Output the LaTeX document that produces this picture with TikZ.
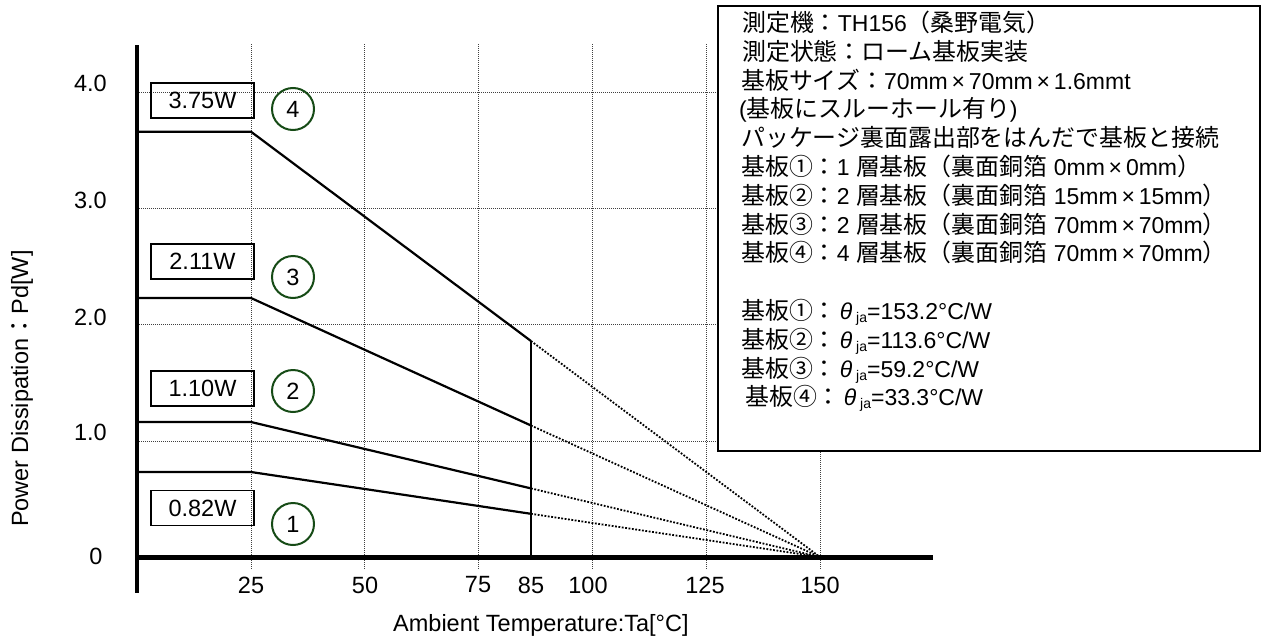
\documentclass[tikz,border=0pt]{standalone}
\usepackage{fontspec}
\setmainfont{Liberation Sans}
\newfontfamily\jp[Scale=1.04]{Noto Sans CJK JP}
\definecolor{dgreen}{RGB}{22,75,22}
\tikzset{
  txt/.style={font=\fontsize{23.5}{28}\selectfont, inner sep=0pt},
  btxt/.style={font=\fontsize{23}{28}\selectfont, inner sep=0pt},
  gridline/.style={line width=0.9pt, dash pattern=on 1pt off 1pt, black!75},
  axisline/.style={line width=4.6pt},
  curve/.style={line width=2.2pt, line join=miter},
  ext/.style={line width=1.8pt, dash pattern=on 1.8pt off 1.6pt},
  wbox/.style={txt, draw, line width=1.5pt, minimum width=103pt, minimum height=35pt},
  numcirc/.style={txt, circle, draw=dgreen, line width=2pt, minimum size=42pt},
  infoline/.style={btxt, anchor=base west},
}
\newcommand{\thja}{\textit{θ}\,\raisebox{-3pt}{\fontsize{14}{14}\selectfont ja}}
\begin{document}
\begin{tikzpicture}[x=1pt,y=-1pt]
\useasboundingbox (0,0) rectangle (1263,640);
\fill[white] (0,0) rectangle (1263,640);

% grid
\foreach \gx in {251,364,478,592,706,820}
  \draw[gridline] (\gx,44) -- (\gx,569);
\foreach \gy in {92,208,324,441}
  \draw[gridline] (137,\gy) -- (933,\gy);

% key coordinates
\coordinate (conv) at (820,557);
\coordinate (c4a) at (137,131.7); \coordinate (c4b) at (251,131.7); \coordinate (c4c) at (531,341);
\coordinate (c3a) at (137,298);   \coordinate (c3b) at (251,298);   \coordinate (c3c) at (531,425.5);
\coordinate (c2a) at (137,422);   \coordinate (c2b) at (251,422);   \coordinate (c2c) at (531,488.4);
\coordinate (c1a) at (137,472);   \coordinate (c1b) at (251,472);   \coordinate (c1c) at (531,513.8);
\coordinate (v85) at (531,557);

% derating curves
\draw[curve] (c4a) -- (c4b) -- (c4c);
\draw[curve] (c3a) -- (c3b) -- (c3c);
\draw[curve] (c2a) -- (c2b) -- (c2c);
\draw[curve] (c1a) -- (c1b) -- (c1c);
\draw[curve] (c4c) -- (v85);
\foreach \c in {c4c,c3c,c2c,c1c}
  \draw[ext] (\c) -- (conv);

% axes
\coordinate (yt) at (137,45); \coordinate (yb) at (137,593);
\coordinate (xl) at (135,557); \coordinate (xr) at (933,557);
\draw[axisline] (yt) -- (yb);
\draw[axisline, line width=5pt] (xl) -- (xr);

% y tick labels
\node[txt, anchor=east] (y4) at (107,83) {4.0};
\node[txt, anchor=east] (y3) at (107,200) {3.0};
\node[txt, anchor=east] (y2) at (107,317) {2.0};
\node[txt, anchor=east] (y1) at (107,432) {1.0};
\node[txt] (y0) at (96,556) {0};

% x tick labels
\node[txt] (x25) at (251,585) {25};
\node[txt] (x50) at (365,585) {50};
\node[txt] (x75) at (478,585) {75};
\node[txt] (x85) at (531,585) {85};
\node[txt] (x100) at (588,585) {100};
\node[txt] (x125) at (705,585) {125};
\node[txt] (x150) at (820,585) {150};

% axis titles
\node[txt, anchor=west] (xtitle) at (393,625) {Ambient Temperature:Ta[°C]};
\node[txt, anchor=west, rotate=90] (ytitle) at (22,527) {Power Dissipation{\jp ：}Pd[W]};

% value boxes
\node[wbox] (w4) at (202.5,100.5) {3.75W};
\node[wbox] (w3) at (202.5,261.5) {2.11W};
\node[wbox] (w2) at (202.5,388.5) {1.10W};
\node[wbox] (w1) at (202.5,508) {0.82W};

% numbered circles
\node[numcirc] (n4) at (293,109) {4};
\node[numcirc] (n3) at (293,277) {3};
\node[numcirc] (n2) at (293,391) {2};
\node[numcirc] (n1) at (293,524) {1};

% info box
\node[draw, fill=white, line width=2pt, minimum width=542pt, minimum height=445pt, anchor=north west, inner sep=0pt] (info) at (717,5) {};
\node[infoline] (t1) at (742,31.5) {{\jp 測定機：}TH156{\jp （桑野電気）}};
\node[infoline] (t2) at (742,60.3) {{\jp 測定状態：ローム基板実装}};
\node[infoline] (t3) at (741,89.1) {{\jp 基板サイズ：}70mm\,×\,70mm\,×\,1.6mmt};
\node[infoline] (t4) at (739,117.9) {({\jp 基板にスルーホール有り})};
\node[infoline] (t5) at (741,146.7) {{\jp パッケージ裏面露出部をはんだで基板と接続}};
\node[infoline] (t6) at (741,175.5) {{\jp 基板①：}1 {\jp 層基板（裏面銅箔} 0mm\,×\,0mm{\jp ）}};
\node[infoline] (t7) at (741,204.3) {{\jp 基板②：}2 {\jp 層基板（裏面銅箔} 15mm\,×\,15mm{\jp ）}};
\node[infoline] (t8) at (741,233.1) {{\jp 基板③：}2 {\jp 層基板（裏面銅箔} 70mm\,×\,70mm{\jp ）}};
\node[infoline] (t9) at (741,261.9) {{\jp 基板④：}4 {\jp 層基板（裏面銅箔} 70mm\,×\,70mm{\jp ）}};
\node[infoline] (r1) at (741,319.5) {{\jp 基板①：}\hspace{3pt}\thja=153.2°C/W};
\node[infoline] (r2) at (741,348.3) {{\jp 基板②：}\hspace{3pt}\thja=113.6°C/W};
\node[infoline] (r3) at (741,377.1) {{\jp 基板③：}\hspace{3pt}\thja=59.2°C/W};
\node[infoline] (r4) at (745,405.9) {{\jp 基板④：}\hspace{3pt}\thja=33.3°C/W};
\end{tikzpicture}
\end{document}
